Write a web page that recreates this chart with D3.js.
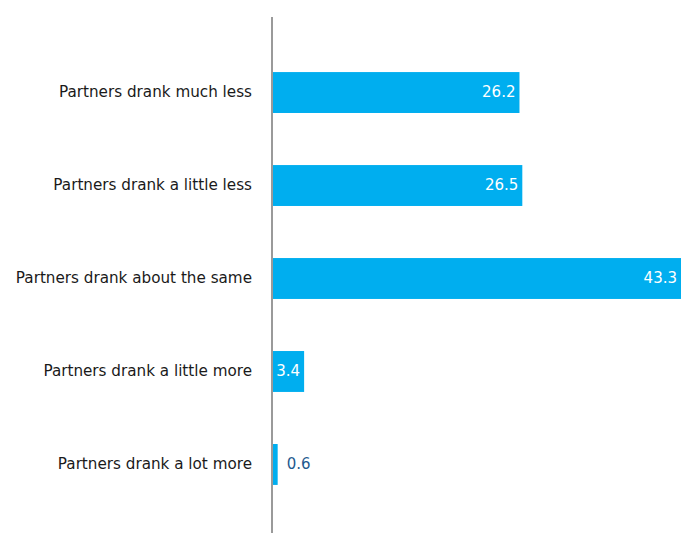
<!DOCTYPE html>
<html>
<head>
<meta charset="utf-8">
<script src="https://cdn.jsdelivr.net/npm/d3@7"></script>
<style>
  html, body { margin: 0; padding: 0; background: #fff; }
  svg { display: block; }
  text { font-family: "DejaVu Sans", Verdana, sans-serif; }
</style>
</head>
<body>
<div id="chart"></div>
<script>
// Change in partners' drinking (%)
const categories = [
  "Partners drank much less",
  "Partners drank a little less",
  "Partners drank about the same",
  "Partners drank a little more",
  "Partners drank a lot more"
];
const values = [26.2, 26.5, 43.3, 3.4, 0.6];

const width = 681, height = 533;
const axisX = 272;

const svg = d3.select("#chart").append("svg")
  .attr("width", width)
  .attr("height", height);

const x = d3.scaleLinear()
  .domain([0, 43.3])
  .range([axisX, width]);

const y = d3.scaleBand()
  .domain(categories)
  .range([20, 537])
  .paddingInner(0.56)
  .paddingOuter(0.56);

const data = categories.map((c, i) => ({ cat: c, val: values[i] }));

// bars
svg.append("g").selectAll("rect")
  .data(data)
  .join("rect")
  .attr("x", x(0))
  .attr("y", d => y(d.cat))
  .attr("width", d => x(d.val) - x(0))
  .attr("height", y.bandwidth())
  .attr("fill", "#00aeef");

// category axis line
svg.append("line")
  .attr("x1", axisX).attr("x2", axisX)
  .attr("y1", 17).attr("y2", height)
  .attr("stroke", "#9a9a9a")
  .attr("stroke-width", 2);

// category labels
svg.append("g").selectAll("text")
  .data(data)
  .join("text")
  .attr("x", 252)
  .attr("y", d => y(d.cat) + y.bandwidth() / 2)
  .attr("dy", "0.3em")
  .attr("text-anchor", "end")
  .attr("font-size", 15.2)
  .attr("fill", "#1a1a1a")
  .text(d => d.cat);

// value labels: inside the bar when it fits, otherwise just past its end
svg.append("g").selectAll("text")
  .data(data)
  .join("text")
  .each(function (d) {
    const inside = x(d.val) - x(0) > 25;
    d3.select(this)
      .attr("x", inside ? x(d.val) - 4 : x(d.val) + 9)
      .attr("text-anchor", inside ? "end" : "start")
      .attr("fill", inside ? "#ffffff" : "#1f5a8f");
  })
  .attr("y", d => y(d.cat) + y.bandwidth() / 2)
  .attr("dy", "0.3em")
  .attr("font-size", 15)
  .text(d => d3.format(".1f")(d.val));
</script>
</body>
</html>
